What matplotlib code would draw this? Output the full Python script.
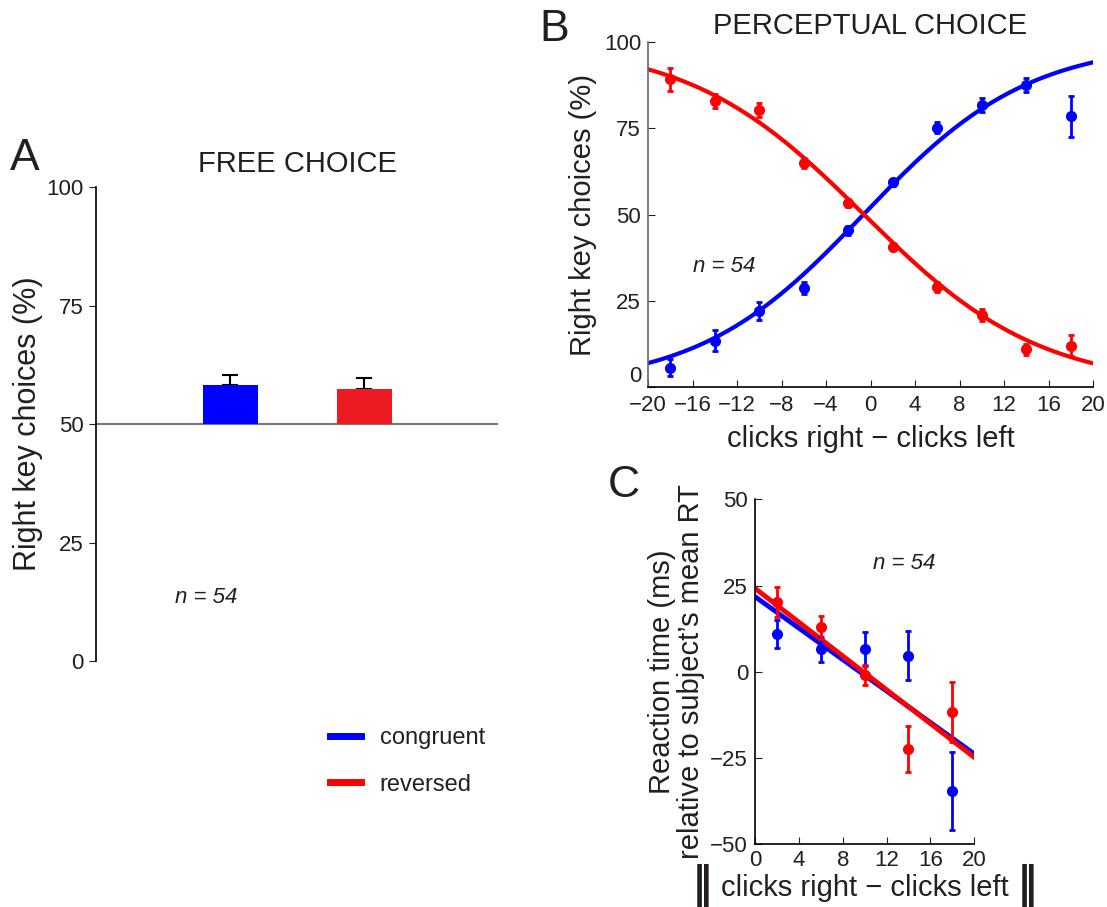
#!/usr/bin/env python3
import numpy as np
import matplotlib
matplotlib.use("Agg")
import matplotlib.pyplot as plt
from matplotlib.lines import Line2D

plt.rcParams["font.family"] = ["Liberation Sans", "DejaVu Sans"]
TXT = "#231f20"
plt.rcParams["text.color"] = TXT
plt.rcParams["axes.labelcolor"] = TXT
plt.rcParams["xtick.color"] = TXT
plt.rcParams["ytick.color"] = TXT

BLUE = "#0000ff"
RED = "#ff0000"
RED_BAR = "#ed1c24"

# A: free choice
free_conditions = ["congruent", "reversed"]
free_mean = [58.2, 57.4]
free_sem = [2.1, 2.3]

# B: perceptual choice
clicks_diff = [-18, -14, -10, -6, -2, 2, 6, 10, 14, 18]
perc_congruent = [5.6, 13.4, 22.0, 28.8, 45.4, 59.3, 75.2, 81.8, 87.5, 78.5]
perc_congruent_err = [2.5, 3.0, 2.7, 1.7, 1.3, 1.0, 1.5, 2.0, 2.0, 5.9]
perc_reversed = [89.2, 82.8, 80.2, 65.0, 53.3, 40.7, 28.9, 20.8, 10.9, 12.0]
perc_reversed_err = [3.3, 2.0, 2.0, 1.5, 1.2, 1.0, 1.5, 1.7, 1.7, 3.0]
# fitted logistic (mu, scale)
fit_congruent = (-0.64, 7.45)
fit_reversed = (-0.60, -7.9)

# C: reaction time
abs_diff = [2, 6, 10, 14, 18]
rt_congruent = [10.9, 6.5, 6.6, 4.7, -34.5]
rt_congruent_err = [4.0, 3.6, 5.0, 7.1, 11.4]
rt_reversed = [20.2, 12.9, -0.8, -22.3, -11.6]
rt_reversed_err = [4.3, 3.4, 2.9, 6.7, 8.6]
# linear fits (intercept, slope)
rt_fit_congruent = (21.8, -2.28)
rt_fit_reversed = (24.2, -2.45)

TICK_FS = 16

fig = plt.figure(figsize=(11.07, 9.07), dpi=100)

# ---------------- panel A ----------------
axA = fig.add_axes([0.0867, 0.2712, 0.3633, 0.5226])
x_pos = np.arange(1, len(free_mean) + 1)
heights = np.array(free_mean) - 50
axA.bar(x_pos, heights, width=0.41, bottom=50, color=[BLUE, RED_BAR], zorder=3)
axA.errorbar(x_pos, free_mean, yerr=[np.zeros(len(free_sem)), free_sem], fmt="none",
             ecolor="black", elinewidth=1.5, capsize=6, capthick=1.5, zorder=2)
axA.axhline(50, color="#777777", lw=1.5, zorder=1)
axA.set_xlim(0, 3)
axA.set_ylim(0, 100)
axA.set_xticks([])
axA.set_yticks([0, 25, 50, 75, 100])
for s in ("top", "right", "bottom"):
    axA.spines[s].set_visible(False)
axA.spines["left"].set_linewidth(1.2)
axA.tick_params(axis="y", direction="out", length=5, labelsize=TICK_FS, pad=4)
axA.set_ylabel("Right key choices (%)", fontsize=22, labelpad=2)
axA.set_title("FREE CHOICE", fontsize=21, pad=11)
axA.text(0.59, 13.3, "n = 54", fontsize=16, style="italic", va="center")
fig.text(0.009, 0.825, "A", fontsize=32, va="center")

# ---------------- panel B ----------------
axB = fig.add_axes([0.5854, 0.5733, 0.402, 0.3804])
xs = np.linspace(-20, 20, 300)
for mu_s, color in ((fit_congruent, BLUE), (fit_reversed, RED)):
    mu, s = mu_s
    axB.plot(xs, 100 / (1 + np.exp(-(xs - mu) / s)), color=color, lw=3, zorder=2)
axB.errorbar(clicks_diff, perc_congruent, yerr=perc_congruent_err, fmt="o", color=BLUE,
             ms=7, elinewidth=2, capsize=2, capthick=2, zorder=3)
axB.errorbar(clicks_diff, perc_reversed, yerr=perc_reversed_err, fmt="o", color=RED,
             ms=7, elinewidth=2, capsize=2, capthick=2, zorder=3)
axB.set_xlim(-20, 20)
axB.set_ylim(0, 100)
axB.set_xticks(np.arange(-20, 21, 4))
axB.set_yticks([0, 25, 50, 75, 100])
for s in ("top", "right"):
    axB.spines[s].set_visible(False)
axB.spines["left"].set_color("#666666")
axB.spines["left"].set_linewidth(1.2)
axB.spines["bottom"].set_linewidth(1.2)
axB.tick_params(direction="in", length=5, labelsize=TICK_FS)
axB.tick_params(axis="y", pad=5)
axB.tick_params(axis="x", pad=6)
axB.get_yticklabels()[0].set_verticalalignment("bottom")
axB.set_ylabel("Right key choices (%)", fontsize=21, labelpad=5)
axB.set_xlabel("clicks right \u2212 clicks left", fontsize=21, labelpad=6)
axB.set_title("PERCEPTUAL CHOICE", fontsize=21, pad=6)
axB.text(-16, 34.8, "n = 54", fontsize=16, style="italic", va="center")
fig.text(0.487, 0.968, "B", fontsize=32, va="center")

# ---------------- panel C ----------------
axC = fig.add_axes([0.682, 0.0691, 0.1981, 0.3804])
xl = np.array([0, 20])
for (b0, b1), color in ((rt_fit_congruent, BLUE), (rt_fit_reversed, RED)):
    axC.plot(xl, b0 + b1 * xl, color=color, lw=3.5, zorder=2)
axC.errorbar(abs_diff, rt_congruent, yerr=rt_congruent_err, fmt="o", color=BLUE,
             ms=7, elinewidth=2, capsize=2, capthick=2, zorder=3)
axC.errorbar(abs_diff, rt_reversed, yerr=rt_reversed_err, fmt="o", color=RED,
             ms=7, elinewidth=2, capsize=2, capthick=2, zorder=3)
axC.set_xlim(0, 20)
axC.set_ylim(-50, 50)
axC.set_xticks(np.arange(0, 21, 4))
axC.set_yticks([-50, -25, 0, 25, 50])
for s in ("top", "right"):
    axC.spines[s].set_visible(False)
axC.spines["left"].set_linewidth(1.2)
axC.spines["bottom"].set_linewidth(1.2)
axC.tick_params(direction="in", length=5, labelsize=TICK_FS)
axC.tick_params(axis="y", pad=5)
axC.tick_params(axis="x", pad=4)
axC.set_ylabel("Reaction time (ms)\nrelative to subject\u2019s mean RT", fontsize=21,
               labelpad=4, linespacing=1.05)
axC.set_xlabel("clicks right \u2212 clicks left", fontsize=21, labelpad=2)
axC.text(10.8, 31.5, "n = 54", fontsize=16, style="italic", va="center")
for bx in (-0.24, 1.24):
    axC.text(bx, -0.12, "\u2016", transform=axC.transAxes, fontsize=30,
             fontweight="bold", family="DejaVu Sans", ha="center", va="center")
fig.text(0.549, 0.465, "C", fontsize=32, va="center")

# legend
handles = [Line2D([], [], color=BLUE, lw=5), Line2D([], [], color=RED, lw=5)]
fig.legend(handles, free_conditions, loc="upper left", bbox_to_anchor=(0.279, 0.222),
           frameon=False, fontsize=17, handlelength=1.3, handletextpad=0.8,
           labelspacing=1.05)

fig.savefig("out.png", dpi=100)
